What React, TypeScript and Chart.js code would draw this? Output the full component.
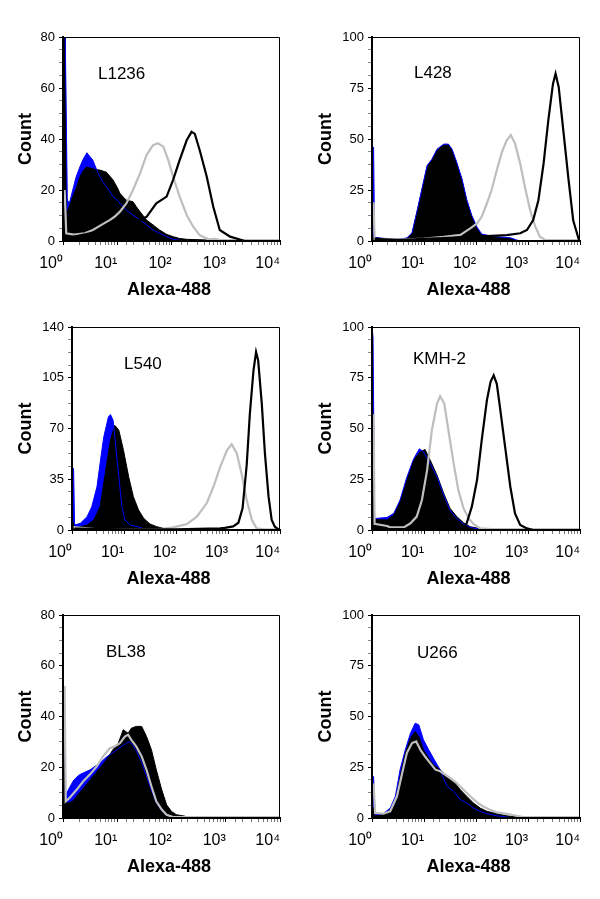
import React, { useEffect, useRef } from 'react';
import { Chart, registerables } from 'chart.js';

Chart.register(...registerables);

type Pair = [number, number];

// Each pair: [log10(Alexa-488 intensity), count]
const l1236Blue: Pair[] = [[0,90],[0.04,82],[0.08,16],[0.12,15],[0.18,20],[0.24,25],[0.31,29],[0.37,32],[0.44,34.6],[0.5,33],[0.55,31.7],[0.62,28],[0.68,25.2],[0.74,23],[0.8,21.3],[0.86,19.5],[0.92,17.4],[1.0,16],[1.05,14.8],[1.17,12.1],[1.29,10.2],[1.42,8.2],[1.54,6.3],[1.66,4.3],[1.78,3.0],[1.91,1.7],[2.03,0.65],[2.18,0.2],[2.25,0],[4,0]];
const l1236Black: Pair[] = [[0,90],[0.04,90],[0.06,12],[0.09,12],[0.18,17.4],[0.25,21],[0.31,25],[0.37,27.5],[0.43,29],[0.52,28.5],[0.6,28],[0.68,27.8],[0.8,27],[0.92,24],[1.0,21],[1.05,18.7],[1.12,17],[1.17,16],[1.29,15.4],[1.35,13.5],[1.42,11.5],[1.54,8.2],[1.66,6.3],[1.78,4.3],[1.91,2.6],[2.03,1.7],[2.15,1],[2.28,0.65],[2.65,0.4],[2.7,0],[4,0]];
const l1236Gray: Pair[] = [[0.03,20],[0.06,3],[0.2,2.5],[0.4,3],[0.55,4.3],[0.74,6.7],[0.86,8.2],[0.95,9.5],[1.05,11.5],[1.17,14.8],[1.29,20],[1.42,26.5],[1.54,33.7],[1.66,37.6],[1.75,38.3],[1.85,37],[1.94,31.7],[2.03,25.2],[2.15,17.4],[2.28,10.2],[2.4,5.6],[2.52,2.3],[2.68,0.65],[2.8,0.8],[2.9,0.4],[4,0.4]];
const l1236Line: Pair[] = [[0.05,1],[0.5,3],[1.0,5],[1.3,7],[1.54,9.5],[1.72,14.8],[1.91,17.4],[2.03,24],[2.15,31.7],[2.28,39.5],[2.37,42.8],[2.43,42],[2.52,35.6],[2.65,25.2],[2.77,13.4],[2.89,4.3],[3.08,1.7],[3.26,0.6],[3.35,0]];

const l428Blue: Pair[] = [[0,46],[0.03,46],[0.05,2],[0.1,1.5],[0.3,1.2],[0.5,0.8],[0.67,1.5],[0.77,4],[0.86,14],[0.96,25.5],[1.06,37],[1.15,40],[1.25,45],[1.38,47.5],[1.47,47.5],[1.54,45],[1.63,38.5],[1.73,30.5],[1.82,20.5],[1.92,12.5],[2.02,6.8],[2.11,3.4],[2.34,2.2],[2.66,1.6],[2.78,0.5],[2.85,0],[4,0]];
const l428Black: Pair[] = [[0,2],[0.3,0.8],[0.67,1.3],[0.77,3.8],[0.86,13.5],[0.96,25],[1.06,36.4],[1.15,39.6],[1.25,44.5],[1.38,47],[1.47,47],[1.54,44.5],[1.63,38],[1.73,29.9],[1.82,20],[1.92,11.9],[2.02,6.2],[2.11,2.9],[2.34,1.8],[2.66,1.3],[2.78,0],[4,0]];
const l428Gray: Pair[] = [[0.03,19],[0.05,1],[0.2,0.8],[0.7,0.8],[1.0,1.2],[1.38,2],[1.7,3],[1.89,6.2],[2.02,8.6],[2.11,11.9],[2.21,18.4],[2.3,25],[2.4,34.7],[2.5,43.7],[2.59,49.4],[2.67,51.9],[2.75,47.8],[2.85,38],[2.94,26.6],[3.04,15.2],[3.14,7],[3.23,2.1],[3.33,0.5],[3.45,0.4],[4,0.4]];
const l428Line: Pair[] = [[0.05,1],[0.5,0.5],[1.0,1],[1.5,1.5],[2.02,2],[2.21,2.4],[2.59,2.9],[2.85,3.8],[2.98,5.4],[3.1,10.3],[3.2,20],[3.3,38],[3.39,59],[3.48,77],[3.53,82],[3.59,75.5],[3.68,54],[3.78,30],[3.87,10],[3.97,1.3],[4,0]];

const l540Blue: Pair[] = [[0,42.5],[0.03,42.5],[0.05,3.4],[0.16,4.6],[0.29,9.2],[0.38,16],[0.48,29.8],[0.54,46],[0.61,64],[0.7,78],[0.74,79.6],[0.79,75.7],[0.83,62],[0.9,36.7],[0.96,16],[1.02,6.9],[1.12,3.4],[1.31,1.8],[1.44,0],[4,0]];
const l540Black: Pair[] = [[0,7],[0.05,2],[0.1,1.8],[0.29,3.4],[0.42,6.9],[0.54,16],[0.64,39],[0.74,62],[0.82,72.3],[0.9,68.9],[0.99,55],[1.09,36.7],[1.18,23],[1.28,13.8],[1.38,8],[1.5,4.1],[1.63,2.3],[1.76,1.1],[1.85,0],[4,0]];
const l540Gray: Pair[] = [[0.03,2],[0.5,0.5],[1.0,0.5],[1.7,0.7],[1.95,1.8],[2.21,4.1],[2.4,9.2],[2.59,18.4],[2.72,29.8],[2.85,43.6],[2.98,55],[3.07,59.2],[3.17,52.8],[3.26,39],[3.36,20.7],[3.46,6.9],[3.55,1.1],[3.7,0.4],[4,0.4]];
const l540Line: Pair[] = [[0.05,1],[1.0,0.5],[2.0,0.5],[2.85,1.2],[2.94,1.5],[3.1,2.5],[3.2,5],[3.28,15],[3.36,45],[3.42,80],[3.49,110],[3.54,122.8],[3.58,117],[3.65,87],[3.71,52.8],[3.78,23],[3.84,6.9],[3.9,2.3],[3.97,0.5],[4,0]];

const kmh2Blue: Pair[] = [[0,100],[0.02,95],[0.05,6],[0.07,5.7],[0.29,6.2],[0.42,8.2],[0.54,14.8],[0.67,26],[0.8,35],[0.91,40],[0.99,38.5],[1.12,32.8],[1.25,26.2],[1.38,17.2],[1.5,9.8],[1.63,5.7],[1.76,3],[1.89,1.3],[2.08,0.3],[2.15,0],[4,0]];
const kmh2Black: Pair[] = [[0,60],[0.02,60],[0.05,5.2],[0.29,4.9],[0.42,7.4],[0.54,14],[0.67,24.6],[0.8,34.4],[0.93,38.5],[1.02,39.7],[1.12,34.4],[1.25,27],[1.38,18],[1.5,10.7],[1.63,6.6],[1.76,3.6],[1.89,1.6],[2.08,0.7],[2.18,0],[4,0]];
const kmh2Gray: Pair[] = [[0.03,57],[0.05,3],[0.29,2],[0.35,1.3],[0.61,1.3],[0.74,3.3],[0.86,6.6],[0.96,14.8],[1.06,29.5],[1.15,49],[1.25,62.3],[1.31,65.9],[1.39,62.3],[1.47,49],[1.57,32.8],[1.66,19.7],[1.76,10.7],[1.86,5.7],[1.95,3],[2.08,0.8],[2.3,0.4],[4,0.4]];
const kmh2Line: Pair[] = [[0.05,0.5],[1.0,0.5],[1.7,0.3],[1.76,0.5],[1.82,3.3],[1.92,11.5],[2.02,24.6],[2.11,44.3],[2.21,64],[2.28,73],[2.34,76.2],[2.4,72],[2.46,60.7],[2.56,41],[2.66,21.3],[2.75,8.2],[2.85,2.5],[2.98,0.8],[3.1,0]];

const bl38Blue: Pair[] = [[0,45],[0.03,45],[0.05,9],[0.12,12],[0.2,15],[0.3,17],[0.4,18],[0.5,19],[0.6,20.5],[0.7,22],[0.8,24],[0.9,25.5],[1.0,27],[1.1,28.5],[1.2,30],[1.26,29.5],[1.35,26.5],[1.45,22],[1.54,16.4],[1.63,11],[1.72,6],[1.82,2.8],[1.91,1.2],[2.03,0.4],[2.1,0],[4,0]];
const bl38Black: Pair[] = [[0,44],[0.03,44],[0.05,6],[0.09,5.9],[0.18,6.6],[0.31,10.1],[0.43,13.1],[0.55,16.4],[0.68,19.7],[0.8,23],[0.92,26.9],[1.02,29.5],[1.11,34.8],[1.2,33.4],[1.26,35.4],[1.35,36.1],[1.45,36.1],[1.54,32.1],[1.63,26.9],[1.72,19],[1.82,11.1],[1.91,5.2],[2.0,2.6],[2.09,1.3],[2.25,0.7],[2.3,0],[4,0]];
const bl38Gray: Pair[] = [[0.03,52],[0.05,6.6],[0.12,7.9],[0.25,11.1],[0.37,14.4],[0.49,17],[0.62,20.3],[0.74,24.3],[0.86,27.5],[0.95,28.2],[1.05,29.5],[1.14,32.1],[1.2,32.8],[1.26,30.8],[1.35,28.2],[1.45,24.3],[1.54,19],[1.63,12.5],[1.72,6.6],[1.82,3.3],[1.91,1.3],[2.03,0.4],[4,0.4]];

const u266Blue: Pair[] = [[0,20.5],[0.03,20.5],[0.06,1.6],[0.22,2.1],[0.35,4.9],[0.45,10.7],[0.54,23.8],[0.64,33.6],[0.74,41.8],[0.83,46.7],[0.9,45.9],[0.99,38.5],[1.09,33.6],[1.18,29.5],[1.31,23.8],[1.44,15.6],[1.57,13.1],[1.7,9],[1.82,7.4],[1.95,4.9],[2.08,3.3],[2.21,2.1],[2.4,1.1],[2.59,0.5],[2.7,0],[4,0]];
const u266Black: Pair[] = [[0,5],[0.03,5],[0.06,1.1],[0.22,2],[0.35,4.1],[0.45,9],[0.54,20.5],[0.64,32],[0.74,39.3],[0.83,42.6],[0.9,40.2],[0.99,33.6],[1.09,29.5],[1.18,26.2],[1.31,23.8],[1.44,20.5],[1.57,18],[1.7,13.9],[1.82,10.7],[1.95,7.4],[2.08,4.9],[2.21,3.3],[2.4,2.1],[2.59,1.1],[2.78,0.5],[2.9,0],[4,0]];
const u266Gray: Pair[] = [[0.03,17],[0.06,2.5],[0.22,2.1],[0.35,3.3],[0.48,10.7],[0.58,22],[0.67,32],[0.77,36.9],[0.85,37.7],[0.93,33.6],[1.02,30.3],[1.12,27],[1.22,23.8],[1.31,23],[1.41,21.3],[1.5,19.7],[1.63,17.2],[1.76,13.9],[1.89,10.7],[2.02,7.7],[2.14,5.7],[2.27,4.1],[2.4,2.8],[2.59,2],[2.78,1.1],[2.91,0.5],[4,0.4]];

const panelNames = ['L1236', 'L428', 'L540', 'KMH-2', 'BL38', 'U266'];
const yMaxValues = [80, 100, 140, 100, 80, 100];
const yMajorSteps = [20, 25, 35, 25, 20, 25];
const xTickLabels = ['10\u2070', '10\u00b9', '10\u00b2', '10\u00b3', '10\u2074'];
const xAxisTitle = 'Alexa-488';
const yAxisTitle = 'Count';

const blueSeries = [l1236Blue, l428Blue, l540Blue, kmh2Blue, bl38Blue, u266Blue];
const blackFillSeries = [l1236Black, l428Black, l540Black, kmh2Black, bl38Black, u266Black];
const graySeries = [l1236Gray, l428Gray, l540Gray, kmh2Gray, bl38Gray, u266Gray];
const blackLineSeries: (Pair[] | null)[] = [l1236Line, l428Line, l540Line, kmh2Line, null, null];

const panelLayouts = [
  { left: 0, top: 0, axisW: 63, plotH: 204, shift: 1, labelDx: 35, labelDy: 41.6 },
  { left: 300, top: 0, axisW: 72, plotH: 204, shift: 3, labelDx: 42, labelDy: 40.6 },
  { left: 0, top: 290, axisW: 72, plotH: 203, shift: 3, labelDx: 52, labelDy: 42.3 },
  { left: 300, top: 290, axisW: 72, plotH: 203, shift: 3, labelDx: 41, labelDy: 37.3 },
  { left: 0, top: 578, axisW: 63, plotH: 203, shift: 1, labelDx: 43, labelDy: 41.7 },
  { left: 300, top: 578, axisW: 72, plotH: 203, shift: 3, labelDx: 45, labelDy: 42.7 },
];

const SANS = "'Liberation Sans', Arial, sans-serif";
const NARROW = "'Liberation Sans Narrow', 'Liberation Sans', Arial, sans-serif";
const BLUE = '#0000ff';
const GRAY = '#bebebe';

const toPoints = (p: Pair[]) => p.map(([u, n]) => ({ x: Math.pow(10, u), y: n }));

function Panel({ index }: { index: number }) {
  const ref = useRef<HTMLCanvasElement>(null);
  const lay = panelLayouts[index];
  const canvasH = 37 + lay.plotH + 60;

  useEffect(() => {
    if (!ref.current) return;
    const major = yMajorSteps[index];
    const isMajorY = (v: number) => Math.abs(v / major - Math.round(v / major)) < 1e-6;
    const isDecade = (v: number) => {
      const e = Math.log10(v);
      return Math.abs(e - Math.round(e)) < 1e-6;
    };
    const blackLine = blackLineSeries[index];
    const datasets: any[] = [
      { data: toPoints(blueSeries[index]), borderWidth: 0, borderColor: 'rgba(0,0,0,0)', backgroundColor: BLUE, fill: 'origin', order: 5 },
      { data: toPoints(blackFillSeries[index]), borderWidth: 1, borderColor: '#000', backgroundColor: '#000', fill: 'origin', order: 4 },
      { data: toPoints(blueSeries[index]), borderWidth: 1, borderColor: BLUE, fill: false, order: 3 },
      { data: toPoints(graySeries[index]), borderWidth: 2.2, borderColor: GRAY, fill: false, order: 2 },
    ];
    if (blackLine) {
      datasets.push({ data: toPoints(blackLine), borderWidth: 2.2, borderColor: '#000', fill: false, order: 1 });
    }

    const framePlugin = {
      id: 'frameAndLabel',
      afterDatasetsDraw(chart: any) {
        const { ctx, chartArea } = chart;
        ctx.save();
        ctx.strokeStyle = '#000';
        ctx.lineWidth = 1;
        ctx.beginPath();
        ctx.moveTo(chartArea.left, chartArea.top + 0.5);
        ctx.lineTo(chartArea.right - 0.5, chartArea.top + 0.5);
        ctx.lineTo(chartArea.right - 0.5, chartArea.bottom);
        ctx.stroke();
        ctx.fillStyle = '#000';
        ctx.font = `17px ${SANS}`;
        ctx.textAlign = 'left';
        ctx.textBaseline = 'alphabetic';
        ctx.fillText(panelNames[index], chartArea.left + lay.labelDx, chartArea.top + lay.labelDy);
        ctx.restore();
      },
    };

    const chart = new Chart(ref.current, {
      type: 'line',
      data: { datasets },
      plugins: [framePlugin],
      options: {
        animation: false,
        responsive: false,
        maintainAspectRatio: false,
        devicePixelRatio: 1,
        layout: { padding: { left: 0, top: 37, right: 20, bottom: 0 } },
        elements: { point: { radius: 0 }, line: { tension: 0 } },
        plugins: { legend: { display: false }, tooltip: { enabled: false } },
        scales: {
          x: {
            type: 'logarithmic',
            min: 1,
            max: 10000,
            position: 'bottom',
            afterFit: (s: any) => { s.height = 60; },
            grid: {
              drawOnChartArea: false,
              drawTicks: true,
              tickLength: 4,
              tickColor: (c: any) => (c.tick && isDecade(c.tick.value) ? '#000' : '#777'),
              tickWidth: 1,
            },
            border: { display: true, color: '#000', width: 2, z: 1 },
            ticks: {
              autoSkip: false,
              maxRotation: 0,
              minRotation: 0,
              align: 'end',
              padding: 9,
              color: '#000',
              font: { family: NARROW, size: 16 },
              callback: (v: any) => {
                const val = Number(v);
                if (!isDecade(val)) return '';
                return xTickLabels[Math.round(Math.log10(val))];
              },
            },
            title: {
              display: true,
              text: xAxisTitle + '\u00a0'.repeat(lay.shift),
              color: '#000',
              font: { family: SANS, size: 18, weight: 'bold' },
              padding: { top: 0, bottom: 0 },
            },
          },
          y: {
            type: 'linear',
            min: 0,
            max: yMaxValues[index],
            afterFit: (s: any) => { s.width = lay.axisW; },
            grid: {
              drawOnChartArea: false,
              drawTicks: true,
              tickLength: 4,
              tickColor: (c: any) => (c.tick && isMajorY(c.tick.value) ? '#000' : '#888'),
              tickWidth: 1,
            },
            border: { display: true, color: '#000', width: 2, z: 1 },
            ticks: {
              stepSize: major / 4,
              autoSkip: false,
              padding: 4,
              color: '#000',
              font: { family: SANS, size: 13 },
              callback: (v: any) => (isMajorY(Number(v)) ? String(v) : ''),
            },
            title: {
              display: true,
              text: yAxisTitle,
              color: '#000',
              font: { family: SANS, size: 18, weight: 'bold' },
              padding: { top: 15, bottom: 0 },
            },
          },
        },
      } as any,
    });
    return () => chart.destroy();
  }, [index]);

  return (
    <canvas
      ref={ref}
      width={300}
      height={canvasH}
      style={{ position: 'absolute', left: lay.left, top: lay.top, width: 300, height: canvasH }}
    />
  );
}

export default function App() {
  return (
    <div style={{ position: 'absolute', left: 0, top: 0, width: 600, height: 899, background: '#fff', overflow: 'hidden' }}>
      {panelNames.map((_, i) => (
        <Panel key={i} index={i} />
      ))}
    </div>
  );
}
